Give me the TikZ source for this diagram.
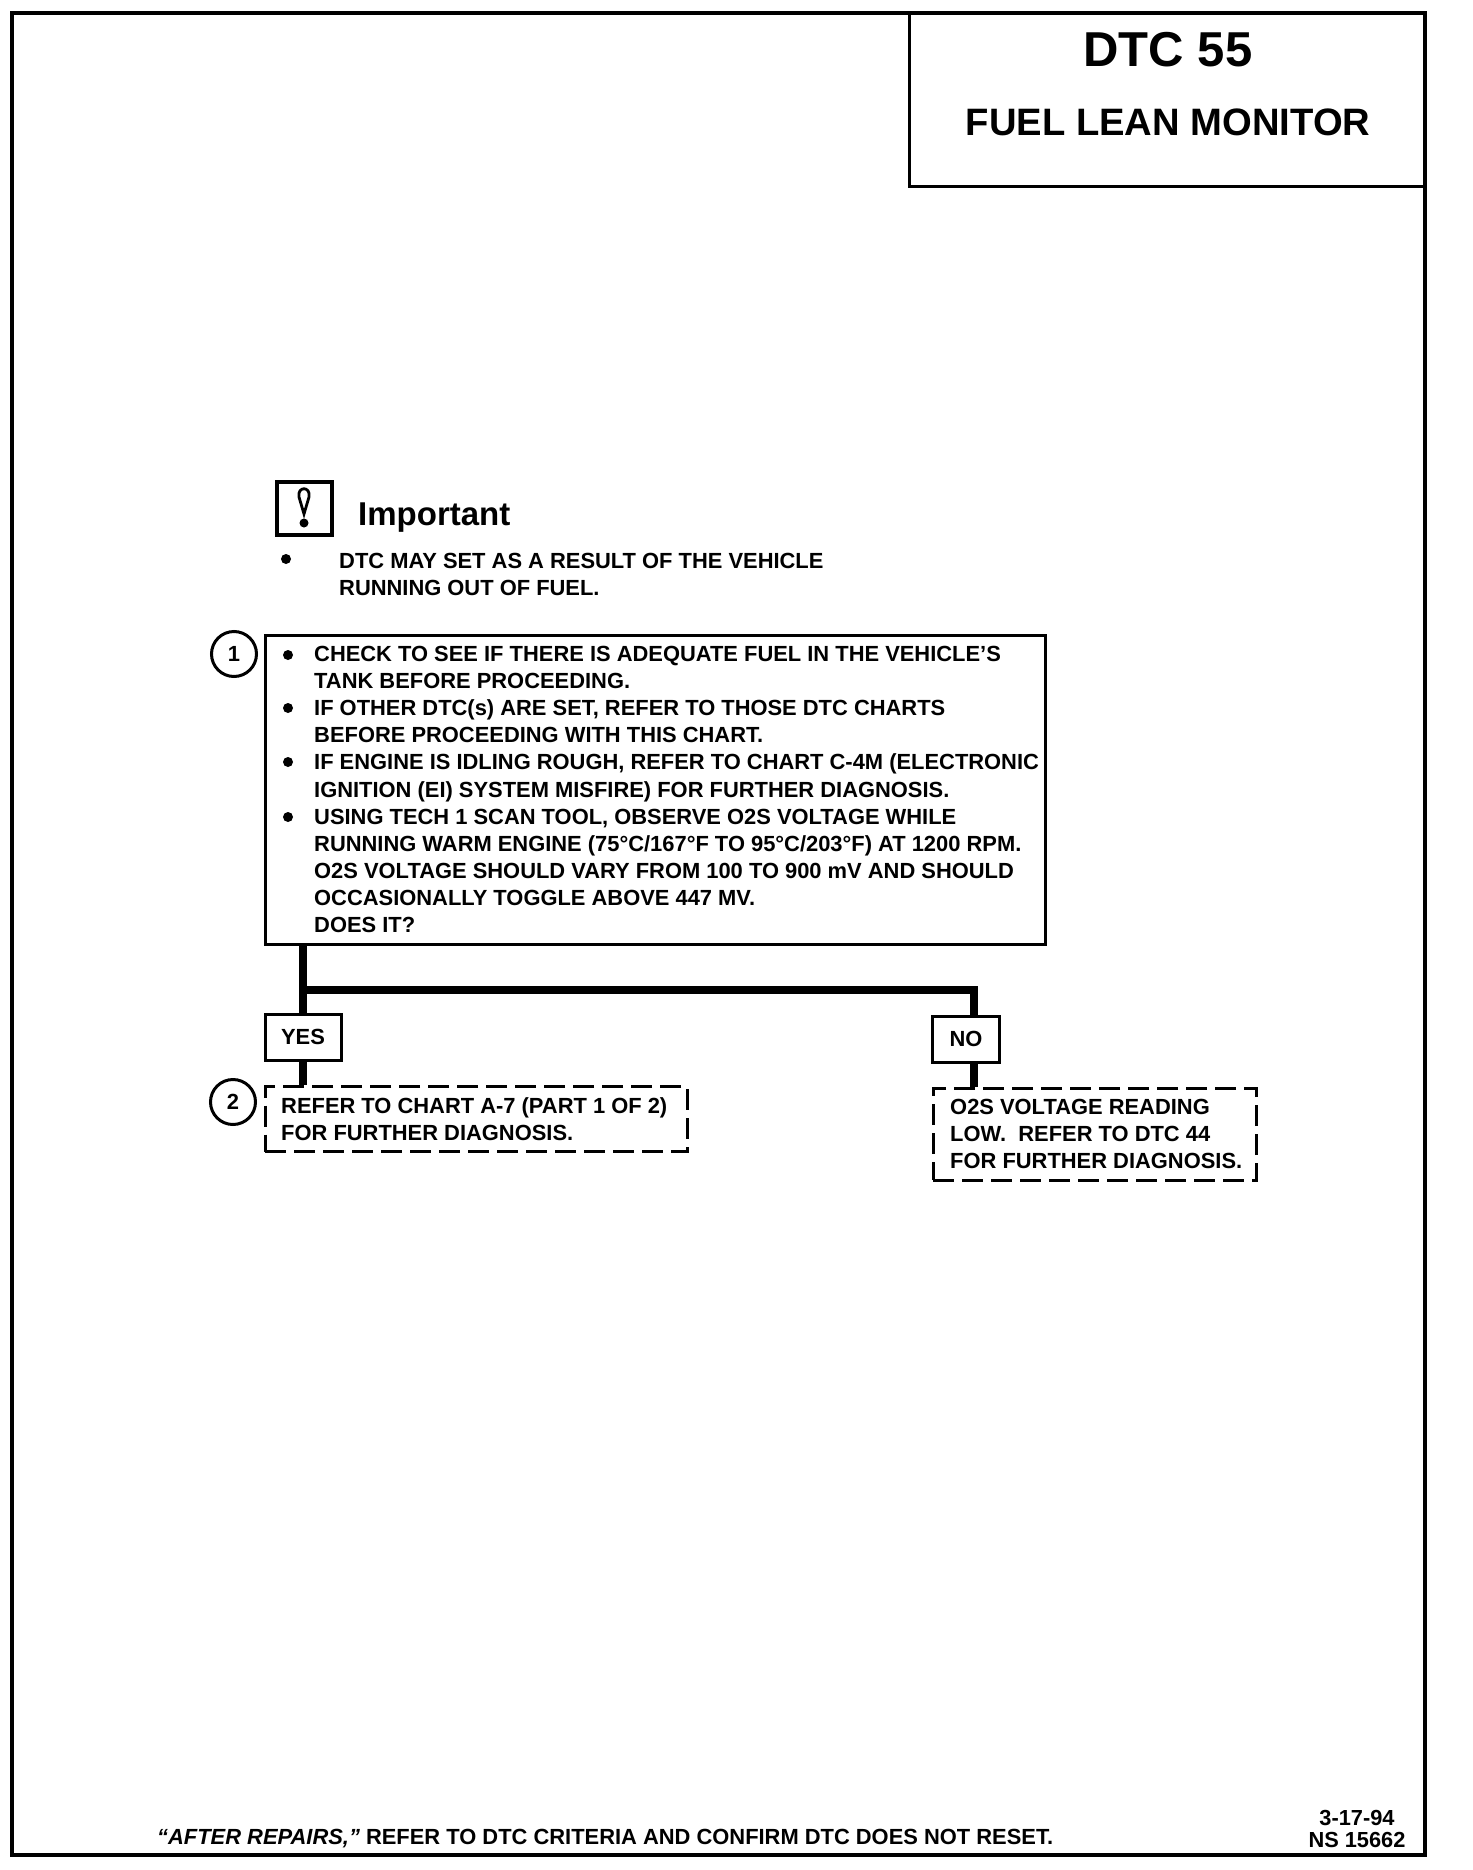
\documentclass[tikz,border=0pt]{standalone}
\usepackage{fontspec}
\setmainfont{Liberation Sans}
\usetikzlibrary{arrows.meta, positioning, calc}
\tikzset{
  bodytext/.style={inner sep=0pt, anchor=north west, align=left,
              font=\fontsize{21.9}{27.1}\selectfont\bfseries},
  outline/.style={draw=black, line width=3pt},
  dashbox/.style={draw=black, line width=3pt, dash pattern=on 21pt off 8pt},
  answer/.style={rectangle, draw=black, line width=3pt, inner sep=0pt, font=\fontsize{21.9}{27.1}\selectfont\bfseries},
  stepmark/.style={circle, draw=black, line width=3pt, minimum size=45pt, inner sep=0pt, font=\fontsize{21.9}{24}\selectfont\bfseries},
  dotmark/.style={circle, fill=black, minimum size=10pt, inner sep=0pt},
  flow/.style={draw=black, line width=8pt},
}
\begin{document}
\begin{tikzpicture}[x=1pt, y=-1pt]
    \useasboundingbox (0,0) rectangle (1472,1870);
    \draw[draw=black, line width=4pt] (12,13) rectangle (1425,1855);

    % title block
    \draw[outline] (909,13) rectangle (1425,187);
    \node[inner sep=0pt, font=\fontsize{49}{50}\selectfont\bfseries] (code) at (1168,50) {DTC 55};
    \node[inner sep=0pt, font=\fontsize{38.2}{40}\selectfont\bfseries] (title) at (1168,122) {FUEL LEAN MONITOR};

    % important note
    \draw[draw=black, line width=4.5pt] (277,482) rectangle (332,535);
    \draw[draw=black, line width=2.8pt] (304,514) -- (299,497)
        .. controls (297,486) and (311,486) .. (309,497) -- cycle;
    \fill (304,523) circle (4.5pt);
    \node[inner sep=0pt, anchor=west, font=\fontsize{33}{36}\selectfont\bfseries] (important) at (358,518) {Important};
    \node[dotmark] (notedot) at (286,559) {};
    \node[bodytext] (note) at (339,553) {DTC MAY SET AS A RESULT OF THE VEHICLE\\RUNNING OUT OF FUEL.};

    % main check
    \node[outline, rectangle, minimum width=780pt, minimum height=309pt, inner sep=0pt] (check) at (655,790) {};
    \node[stepmark] (one) at (234,654) {1};
    \node[bodytext] (checktext) at (314,646) {CHECK TO SEE IF THERE IS ADEQUATE FUEL IN THE VEHICLE'S\\
      TANK BEFORE PROCEEDING.\\
      IF OTHER DTC(s) ARE SET, REFER TO THOSE DTC CHARTS\\
      BEFORE PROCEEDING WITH THIS CHART.\\
      IF ENGINE IS IDLING ROUGH, REFER TO CHART C-4M (ELECTRONIC\\
      IGNITION (EI) SYSTEM MISFIRE) FOR FURTHER DIAGNOSIS.\\
      USING TECH 1 SCAN TOOL, OBSERVE O2S VOLTAGE WHILE\\
      RUNNING WARM ENGINE (75°C/167°F TO 95°C/203°F) AT 1200 RPM.\\
      O2S VOLTAGE SHOULD VARY FROM 100 TO 900 mV AND SHOULD\\
      OCCASIONALLY TOGGLE ABOVE 447 MV.\\
      DOES IT?};
    \foreach \name/\ypos in {dota/655, dotb/708, dotc/762, dotd/817}
      \node[dotmark] (\name) at (288,\ypos) {};

    % answers
    \node[answer, minimum width=76pt, minimum height=46pt] (yes) at (303,1037) {YES};
    \node[answer, minimum width=67pt, minimum height=46pt] (no) at (966,1039) {NO};
    \node[dashbox, rectangle, minimum width=422pt, minimum height=65pt, inner sep=0pt] (yesresult) at (476,1119) {};
    \node[dashbox, rectangle, minimum width=323pt, minimum height=92pt, inner sep=0pt] (noresult) at (1094.5,1134) {};
    \node[stepmark] (two) at (233,1102) {2};
    \node[bodytext] (yestext) at (281,1097) {REFER TO CHART A-7 (PART 1 OF 2)\\FOR FURTHER DIAGNOSIS.};
    \node[bodytext] (notext) at (950,1099) {O2S VOLTAGE READING\\LOW.\ \ REFER TO DTC 44\\FOR FURTHER DIAGNOSIS.};

    \coordinate (branch) at (yes.north |- 0,990);
    \coordinate (nodrop) at ([xshift=8pt]no.north);
    \draw[flow] (check.south -| yes.north) -- (yes.north);
    \draw[flow] (branch) -- (nodrop |- branch) -- (nodrop);
    \draw[flow] (yes.south) -- (yes.south |- yesresult.north);
    \draw[flow] ([xshift=8pt]no.south) -- (nodrop |- noresult.north);

    % footer
    \node[inner sep=0pt, anchor=west, font=\fontsize{21.9}{24}\selectfont\bfseries] (repairs) at (157,1839)
        {\textit{``AFTER REPAIRS,''} REFER TO DTC CRITERIA AND CONFIRM DTC DOES NOT RESET.};
    \node[inner sep=0pt, align=center, font=\fontsize{21.8}{22}\selectfont\bfseries] (stamp) at (1357,1829) {3-17-94\\NS 15662};
\end{tikzpicture}
\end{document}
